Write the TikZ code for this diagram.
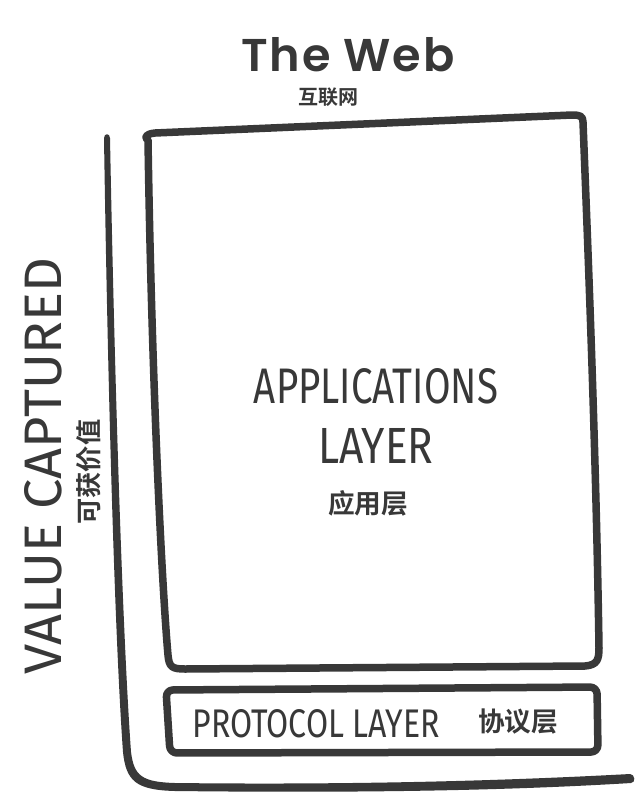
\documentclass[tikz,border=0pt]{standalone}
\usepackage{fontspec}
\usepackage{graphicx}
\newfontfamily\hand{Fira Sans}
\newfontfamily\titlefont[LetterSpace=4]{Poppins SemiBold}
\newfontfamily\cjk{Noto Sans CJK SC Bold}
\definecolor{ink}{HTML}{383838}
\begin{document}
\begin{tikzpicture}[x=1pt,y=-1pt,
  stroke/.style={draw=ink,line cap=round,line join=round},
  handtxt/.style={text=ink,inner sep=0pt},
  cjktxt/.style={text=ink,inner sep=0pt,font=\cjk}]
\useasboundingbox (0,0) rectangle (636,801);
\fill[white] (0,0) rectangle (636,801);
% axis (tapered top part, then thick bottom line)
\fill[ink] (104,138) .. controls (104,133) and (110,133) .. (110,138)
  .. controls (115,400) and (123,640) .. (131,752)
  .. controls (134,776) and (142,782) .. (175,783)
  .. controls (350,785) and (500,781) .. (630,774)
  .. controls (635,774) and (636,783) .. (631,783)
  .. controls (500,791) and (350,793) .. (175,791)
  .. controls (136,790) and (126,781) .. (123,752)
  .. controls (115,640) and (108,400) .. (104,138) -- cycle;
% applications box
\draw[stroke,line width=7.5] (148,140) .. controls (152,400) and (163,600) .. (168,655)
  .. controls (169,667) and (172,669) .. (185,669)
  -- (585,666) .. controls (597,665) and (599,660) .. (599,648)
  .. controls (596,450) and (588,250) .. (583,122)
  .. controls (583,116) and (580,115) .. (572,115)
  -- (155,133) .. controls (145,134) and (144,138) .. (148,140) -- cycle;
% protocol box
\draw[stroke,line width=7.5,rounded corners=7] (166,690) -- (597,687) -- (598,752) -- (170,753) -- cycle;
% texts
\node[handtxt,font=\titlefont] (title) at (348,55) {\resizebox{213pt}{34pt}{The Web}};
\node[cjktxt] (titlecn) at (328,97) {\resizebox{60pt}{!}{互联网}};
\node[handtxt] (app1) at (376,386) {\resizebox{244pt}{35pt}{\hand APPLICATIONS}};
\node[handtxt] (app2) at (376,446) {\resizebox{115pt}{35pt}{\hand LAYER}};
\node[cjktxt] (appcn) at (368,503) {\resizebox{80pt}{!}{应用层}};
\node[handtxt] (proto) at (316,724) {\resizebox{247pt}{28pt}{\hand PROTOCOL LAYER}};
\node[cjktxt] (protocn) at (518,722) {\resizebox{80pt}{!}{协议层}};
\node[handtxt,rotate=90] (value) at (43,466) {\resizebox{417pt}{37pt}{\hand VALUE CAPTURED}};
\node[cjktxt,rotate=90] (valuecn) at (89,472) {\resizebox{105pt}{22pt}{可获价值}};
\end{tikzpicture}
\end{document}
